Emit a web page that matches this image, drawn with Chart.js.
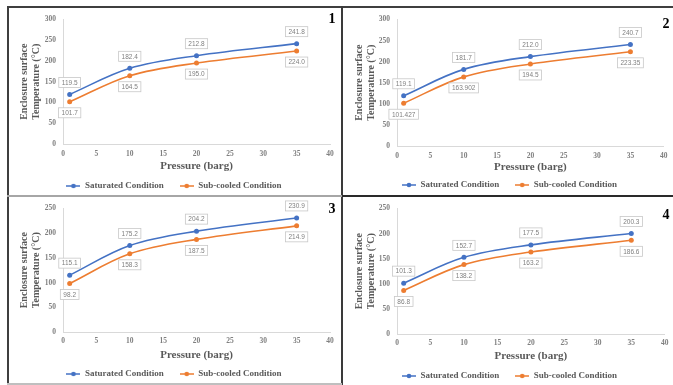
<!DOCTYPE html>
<html>
<head>
<meta charset="utf-8">
<script src="https://cdn.jsdelivr.net/npm/chart.js@4.4.0/dist/chart.umd.min.js"></script>
<style>
    body { margin: 0; background: #fff; }
    #wrap { position: relative; width: 673px; height: 385px; overflow: hidden; background: #fff; }
    .panel { position: absolute; }
    .panel canvas { display: block; }
    .num { position: absolute; transform: translate(-50%, -50%); font: bold 14px "Liberation Serif", serif; line-height: 1; color: #000; }
    .ln { position: absolute; z-index: 2; }
</style>
</head>
<body>
<div id="wrap">
    <div class="panel" id="p0"><canvas id="c0"></canvas></div>
    <div class="panel" id="p1"><canvas id="c1"></canvas></div>
    <div class="panel" id="p2"><canvas id="c2"></canvas></div>
    <div class="panel" id="p3"><canvas id="c3"></canvas></div>

    <div class="num" style="left:332px;top:19px">1</div>
    <div class="num" style="left:666px;top:24px">2</div>
    <div class="num" style="left:332px;top:209px">3</div>
    <div class="num" style="left:666px;top:215px">4</div>

    <div class="ln" style="left:7px;top:6px;width:666px;height:2px;background:#3f3f3f"></div>
    <div class="ln" style="left:7px;top:6px;width:2px;height:379px;background:#3f3f3f"></div>
    <div class="ln" style="left:341px;top:6px;width:2px;height:379px;background:#3a3a3a"></div>
    <div class="ln" style="left:7px;top:195px;width:335px;height:2px;background:#a6a6a6"></div>
    <div class="ln" style="left:342px;top:195px;width:331px;height:2px;background:#2a2a2a"></div>
    <div class="ln" style="left:7px;top:383px;width:335px;height:2px;background:#bfbfbf"></div>
</div>

<script>
// ---- data ----
const pressure = [1, 10, 20, 35];
const seriesNames = ['Saturated Condition', 'Sub-cooled Condition'];

const sat1 = [119.5, 182.4, 212.8, 241.8];
const sub1 = [101.7, 164.5, 195.0, 224.0];
const sat2 = [119.1, 181.7, 212.0, 240.7];
const sub2 = [101.427, 163.902, 194.5, 223.35];
const sat3 = [115.1, 175.2, 204.2, 230.9];
const sub3 = [98.2, 158.3, 187.5, 214.9];
const sat4 = [101.3, 152.7, 177.5, 200.3];
const sub4 = [86.8, 138.2, 163.2, 186.6];

const yMax = [300, 300, 250, 250];
const yStep = 50;
const xMin = 0, xMax = 40, xStep = 5;

const xTitle = 'Pressure (barg)';
const yTitle = ['Enclosure surface', 'Temperature (\u00B0C)'];

// ---- look ----
const colors = ['#4472C4', '#ED7D31'];
const serif = '"Liberation Serif", "DejaVu Serif", serif';
const sans = '"Liberation Sans", "DejaVu Sans", sans-serif';
const textGray = '#595959';

// panel placement on the page, and plot geometry inside each canvas
const panels = [
    { x: 9,   y: 8,   w: 332, h: 187, padL: 9,  left: 54, right: 321, top: 9,  bottom: 136, tickY: 146, titleY: 158, legendY: 178 },
    { x: 343, y: 8,   w: 330, h: 187, padL: 10, left: 54, right: 323, top: 11, bottom: 138, tickY: 148, titleY: 159, legendY: 177 },
    { x: 9,   y: 197, w: 332, h: 186, padL: 9,  left: 54, right: 321, top: 11, bottom: 135, tickY: 144, titleY: 158, legendY: 177 },
    { x: 343, y: 197, w: 330, h: 188, padL: 10, left: 54, right: 323, top: 11, bottom: 137, tickY: 146, titleY: 159, legendY: 179 }
];

const satSets = [sat1, sat2, sat3, sat4];
const subSets = [sub1, sub2, sub3, sub4];

function fmt(v) {
    return Number.isInteger(v) ? v.toFixed(1) : String(v);
}

function legendMark(color) {
    const c = document.createElement('canvas');
    c.width = 14; c.height = 6;
    const g = c.getContext('2d');
    g.strokeStyle = color;
    g.lineWidth = 1.5;
    g.beginPath(); g.moveTo(0, 3); g.lineTo(14, 3); g.stroke();
    g.fillStyle = color;
    g.beginPath(); g.arc(7, 3, 2.3, 0, Math.PI * 2); g.fill();
    return c;
}
const marks = colors.map(legendMark);

// boxed value labels, placed from the points the library computed
const valueLabels = {
    id: 'valueLabels',
    afterDatasetsDraw(chart) {
        const ctx = chart.ctx;
        ctx.save();
        ctx.font = '6.5px ' + sans;
        ctx.textAlign = 'center';
        ctx.textBaseline = 'middle';
        chart.data.datasets.forEach((ds, i) => {
            const meta = chart.getDatasetMeta(i);
            meta.data.forEach((pt, j) => {
                const txt = fmt(ds.data[j].y);
                const w = ctx.measureText(txt).width + 6;
                const h = 10;
                const cx = pt.x;
                const cy = pt.y + ds.labelShift;
                ctx.fillStyle = '#fff';
                ctx.fillRect(cx - w / 2, cy - h / 2, w, h);
                ctx.strokeStyle = '#c8c8c8';
                ctx.lineWidth = 0.8;
                ctx.strokeRect(cx - w / 2, cy - h / 2, w, h);
                ctx.fillStyle = '#7f7f7f';
                ctx.fillText(txt, cx, cy + 0.5);
            });
        });
        ctx.restore();
    }
};

const legendPad = 16;
const legendFont = 9;
const tickFont = 7.5;
const xTitleFont = 11;

function buildChart(k) {
    const p = panels[k];
    const holder = document.getElementById('p' + k);
    holder.style.left = p.x + 'px';
    holder.style.top = p.y + 'px';
    const canvas = document.getElementById('c' + k);
    canvas.width = p.w;
    canvas.height = p.h;

    const legendTop = p.legendY - legendPad - legendFont / 2;
    const xHeight = legendTop - p.bottom;
    const tickPad = p.tickY - p.bottom - tickFont * 1.2 / 2;
    const titlePadBottom = legendTop - p.titleY - xTitleFont * 1.2 / 2;

    const mk = (vals) => pressure.map((x, i) => ({ x: x, y: vals[i] }));

    return new Chart(canvas, {
        type: 'line',
        data: {
            datasets: [
                {
                    label: seriesNames[0],
                    data: mk(satSets[k]),
                    borderColor: colors[0],
                    backgroundColor: colors[0],
                    borderWidth: 1.6,
                    pointRadius: 2.5,
                    pointBorderWidth: 0,
                    tension: 0.35,
                    labelShift: -12
                },
                {
                    label: seriesNames[1],
                    data: mk(subSets[k]),
                    borderColor: colors[1],
                    backgroundColor: colors[1],
                    borderWidth: 1.6,
                    pointRadius: 2.5,
                    pointBorderWidth: 0,
                    tension: 0.35,
                    labelShift: 11
                }
            ]
        },
        options: {
            responsive: false,
            animation: false,
            devicePixelRatio: 1,
            layout: {
                padding: { left: p.padL, right: p.w - p.right, top: p.top, bottom: 0 }
            },
            scales: {
                x: {
                    type: 'linear',
                    min: xMin,
                    max: xMax,
                    grid: { display: false, drawTicks: false },
                    border: { display: true, color: '#d9d9d9', width: 1 },
                    ticks: {
                        stepSize: xStep,
                        padding: tickPad,
                        color: '#7f7f7f',
                        font: { family: serif, size: tickFont, weight: 'bold', lineHeight: 1.2 }
                    },
                    title: {
                        display: true,
                        text: xTitle,
                        color: textGray,
                        padding: { top: 0, bottom: titlePadBottom },
                        font: { family: serif, size: xTitleFont, weight: 'bold', lineHeight: 1.2 }
                    },
                    afterFit(scale) { scale.height = xHeight; }
                },
                y: {
                    min: 0,
                    max: yMax[k],
                    grid: { display: false, drawTicks: false },
                    border: { display: true, color: '#d9d9d9', width: 1 },
                    ticks: {
                        stepSize: yStep,
                        padding: 7,
                        color: '#7f7f7f',
                        font: { family: serif, size: tickFont, weight: 'bold', lineHeight: 1.2 }
                    },
                    title: {
                        display: true,
                        text: yTitle,
                        color: textGray,
                        padding: { top: 0, bottom: 0 },
                        font: { family: serif, size: 10, weight: 'bold', lineHeight: 1.2 }
                    },
                    afterFit(scale) { scale.width = p.left - p.padL; }
                }
            },
            plugins: {
                legend: {
                    position: 'bottom',
                    maxHeight: p.h - legendTop,
                    labels: {
                        usePointStyle: true,
                        pointStyleWidth: 14,
                        padding: legendPad,
                        color: textGray,
                        font: { family: serif, size: legendFont, weight: 'bold' },
                        generateLabels(chart) {
                            const items = Chart.defaults.plugins.legend.labels.generateLabels(chart);
                            items.forEach((it, i) => { it.pointStyle = marks[i]; });
                            return items;
                        }
                    }
                },
                tooltip: { enabled: false }
            }
        },
        plugins: [valueLabels]
    });
}

[0, 1, 2, 3].forEach(buildChart);
</script>
</body>
</html>
